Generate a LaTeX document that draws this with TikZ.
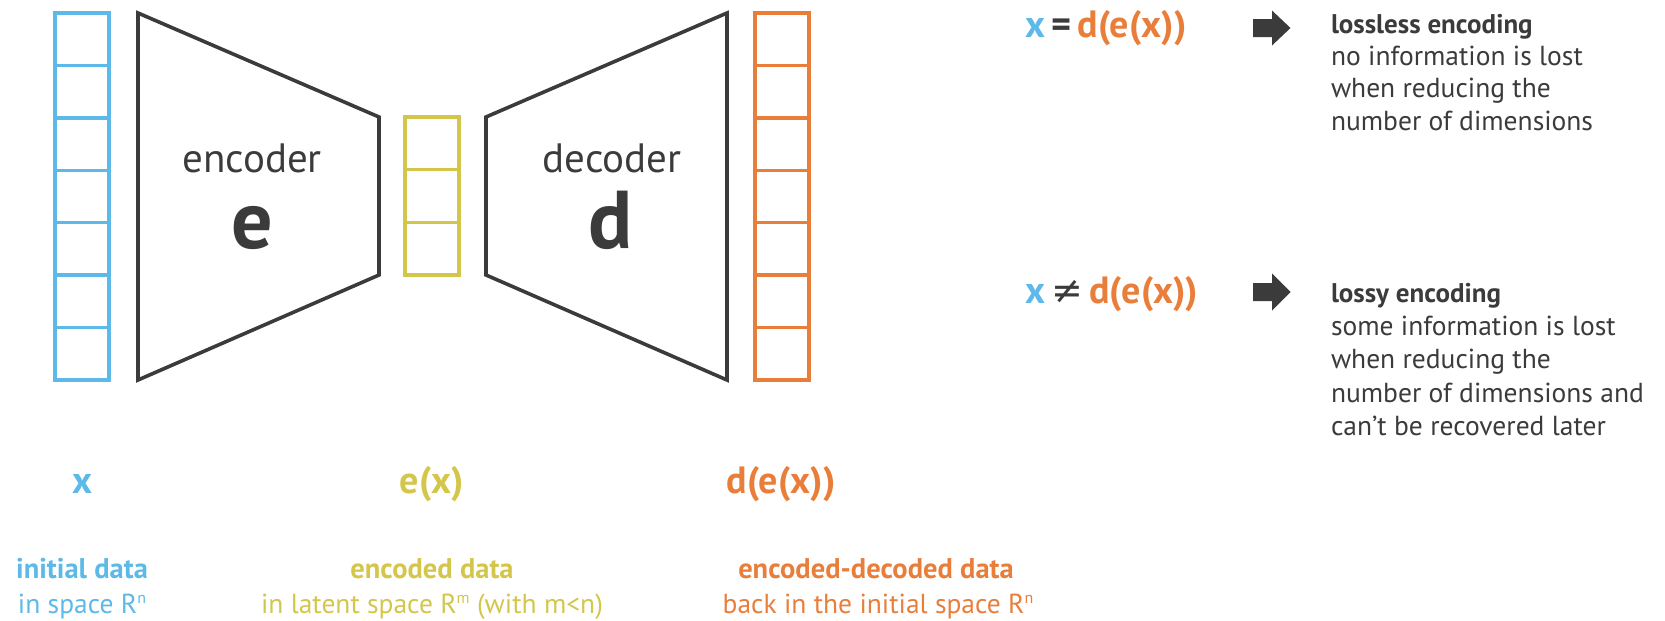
\documentclass[tikz,border=0pt]{standalone}
\usepackage{fontspec}
\setmainfont{PT Sans}
\newfontfamily\symfont{DejaVu Sans}
\definecolor{cblue}{HTML}{5DB9E8}
\definecolor{cyellow}{HTML}{D3C64B}
\definecolor{corange}{HTML}{E97E3B}
\definecolor{cdark}{HTML}{3B3B3B}
\newcommand{\supsm}[1]{\raisebox{0.36em}{\fontsize{16}{17}\selectfont #1}}
\begin{document}
\begin{tikzpicture}[x=1pt,y=-1pt,
  cellcol/.style={line width=3.4pt},
  trap/.style={draw=cdark,line width=3.6pt,line join=miter},
  txt/.style={inner sep=0pt,outer sep=0pt},
  bigname/.style={txt,anchor=base,text=cdark,font=\fontsize{41}{46}\selectfont},
  bigletter/.style={txt,anchor=base,text=cdark,font=\bfseries\fontsize{82}{90}\selectfont},
  varlabel/.style={txt,anchor=base,font=\bfseries\fontsize{38}{42}\selectfont},
  bottomhead/.style={txt,anchor=base,font=\bfseries\fontsize{28.5}{32}\selectfont},
  bottomline/.style={txt,anchor=base,font=\fontsize{27.5}{32}\selectfont},
  sidehead/.style={txt,anchor=base west,text=cdark,font=\bfseries\fontsize{27}{30}\selectfont},
  sideline/.style={txt,anchor=base west,text=cdark,font=\fontsize{27.5}{30}\selectfont},
  blockarrow/.style={fill=cdark}
]
\useasboundingbox (0,0) rectangle (1665,621);

% input column (blue)
\foreach \i in {0,...,6}
  \draw[cellcol,draw=cblue] (55,{13+\i*52.43}) rectangle (109,{13+(\i+1)*52.43});
% latent column (yellow)
\foreach \i in {0,...,2}
  \draw[cellcol,draw=cyellow] (405,{117+\i*52.67}) rectangle (459,{117+(\i+1)*52.67});
% output column (orange)
\foreach \i in {0,...,6}
  \draw[cellcol,draw=corange] (755,{13+\i*52.43}) rectangle (809,{13+(\i+1)*52.43});

% encoder / decoder trapezoids
\coordinate (e1) at (138,13);  \coordinate (e2) at (379,117);
\coordinate (e3) at (379,275); \coordinate (e4) at (138,380);
\draw[trap] (e1) -- (e2) -- (e3) -- (e4) -- cycle;
\coordinate (d1) at (486,117); \coordinate (d2) at (727,13);
\coordinate (d3) at (727,380); \coordinate (d4) at (486,275);
\draw[trap] (d1) -- (d2) -- (d3) -- (d4) -- cycle;

\node[bigname] (enc) at (252,172) {encoder};
\node[bigletter] (encl) at (252,248) {e};
\node[bigname] (dec) at (612,172) {decoder};
\node[bigletter] (decl) at (611,248) {d};

% variable labels
\node[varlabel,text=cblue] (lx) at (82,493) {x};
\node[varlabel,text=cyellow] (lex) at (432,493) {e(x)};
\node[varlabel,text=corange] (ldex) at (781,493) {d(e(x))};

% bottom descriptions
\node[bottomhead,text=cblue] (b1h) at (82,578) {initial data};
\node[bottomline,text=cblue] (b1l) at (82,613) {in space R\supsm{n}};
\node[bottomhead,text=cyellow] (b2h) at (432,578) {encoded data};
\node[bottomline,text=cyellow] (b2l) at (432,613) {in latent space R\supsm{m} (with m<n)};
\node[bottomhead,text=corange] (b3h) at (876,578) {encoded-decoded data};
\node[bottomline,text=corange] (b3l) at (878,613) {back in the initial space R\supsm{n}};

% right side: lossless
\node[varlabel,anchor=base west] (eq1) at (1025,37)
  {\textcolor{cblue}{x}\,\textcolor{cdark}{=}\,\textcolor{corange}{d(e(x))}};
\coordinate (a1) at (1253,28);
\fill[blockarrow] (a1) ++(0,-9) -- ++(19,0) -- ++(0,-8.5) -- ++(18.5,17.5)
  -- ++(-18.5,17.5) -- ++(0,-8.5) -- ++(-19,0) -- cycle;
\node[sidehead] (s1h) at (1331,33) {lossless encoding};
\node[sideline] (s1a) at (1331,65) {no information is lost};
\node[sideline] (s1b) at (1331,97.5) {when reducing the};
\node[sideline] (s1c) at (1331,130) {number of dimensions};

% right side: lossy
\node[varlabel,anchor=base west] (eq2) at (1025,303)
  {\textcolor{cblue}{x}\,\textcolor{cdark}{\symfont\mdseries ≠}\,\textcolor{corange}{d(e(x))}};
\coordinate (a2) at (1253,292);
\fill[blockarrow] (a2) ++(0,-9) -- ++(19,0) -- ++(0,-9.5) -- ++(18.5,18.5)
  -- ++(-18.5,18.5) -- ++(0,-9.5) -- ++(-19,0) -- cycle;
\node[sidehead] (s2h) at (1331,302) {lossy encoding};
\node[sideline] (s2a) at (1331,335) {some information is lost};
\node[sideline] (s2b) at (1331,368.5) {when reducing the};
\node[sideline] (s2c) at (1331,402) {number of dimensions and};
\node[sideline] (s2d) at (1331,435) {can’t be recovered later};
\end{tikzpicture}
\end{document}
